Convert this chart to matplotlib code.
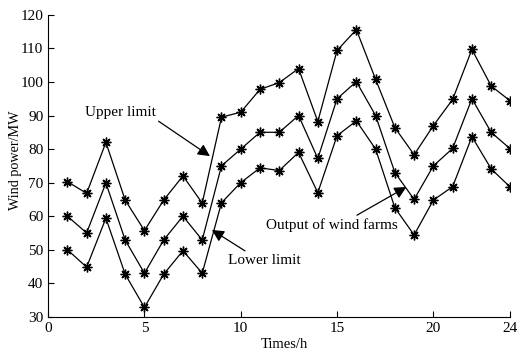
import matplotlib
matplotlib.use("Agg")
import matplotlib.pyplot as plt

hours = list(range(1, 25))
upper = [70.3, 66.8, 82.0, 64.8, 55.7, 64.8, 72.0, 63.9, 89.5, 91.0,
         97.8, 99.8, 104.0, 88.2, 109.4, 115.6, 100.8, 86.4, 78.3, 87.0,
         94.8, 109.7, 98.8, 94.3]
output = [60.0, 55.0, 69.9, 52.9, 43.0, 52.9, 60.0, 52.9, 75.0, 80.0,
          85.0, 85.0, 90.0, 77.2, 95.0, 100.1, 90.0, 73.0, 65.0, 75.0,
          80.2, 95.0, 85.0, 80.0]
lower = [50.0, 44.8, 59.4, 42.7, 32.8, 42.7, 49.7, 43.0, 64.0, 70.0,
         74.4, 73.6, 79.0, 67.0, 84.0, 88.4, 80.0, 62.5, 54.4, 64.8,
         68.8, 83.7, 74.1, 68.6]

plt.rcParams["font.family"] = "Liberation Serif"
fig = plt.figure(figsize=(5.23, 3.54), dpi=100)
ax = fig.add_axes([0.092, 0.105, 0.884, 0.853])

star = (8, 2, 0)
for series in (upper, output, lower):
    ax.plot(hours, series, color='black', linewidth=0.9, marker=star,
            markersize=7, markeredgewidth=1.0)

ax.set_xlim(0, 24)
ax.set_ylim(30, 120)
ax.set_xticks([0, 5, 10, 15, 20, 24])
ax.set_yticks(range(30, 121, 10))
ax.tick_params(direction='in', length=4, width=0.8, labelsize=11)
ax.spines['top'].set_visible(False)
ax.spines['right'].set_visible(False)
ax.set_xlabel('Times/h', fontsize=10.5)
ax.set_ylabel('Wind power/MW', fontsize=10.2)
ax.xaxis.set_label_coords(0.51, -0.071)
ax.yaxis.set_label_coords(-0.056, 0.52)

# annotations with arrows
arrowprops = dict(arrowstyle='-|>', color='black', lw=0.9, mutation_scale=18,
                  shrinkA=0, shrinkB=0)
ax.annotate('Upper limit', xy=(8.4, 77.9), xytext=(3.75, 90.8),
            fontsize=11, ha='center', va='center',
            arrowprops=dict(arrowprops, relpos=(1.0, 0.0)))
ax.annotate('Lower limit', xy=(8.5, 55.9), xytext=(11.2, 46.9),
            fontsize=11, ha='center', va='center',
            arrowprops=dict(arrowprops, relpos=(0.3, 1.0)))
ax.annotate('Output of wind farms', xy=(18.6, 68.7), xytext=(14.75, 57.4),
            fontsize=11, ha='center', va='center',
            arrowprops=dict(arrowprops, relpos=(0.65, 1.0)))

fig.savefig('out.png', dpi=100)
